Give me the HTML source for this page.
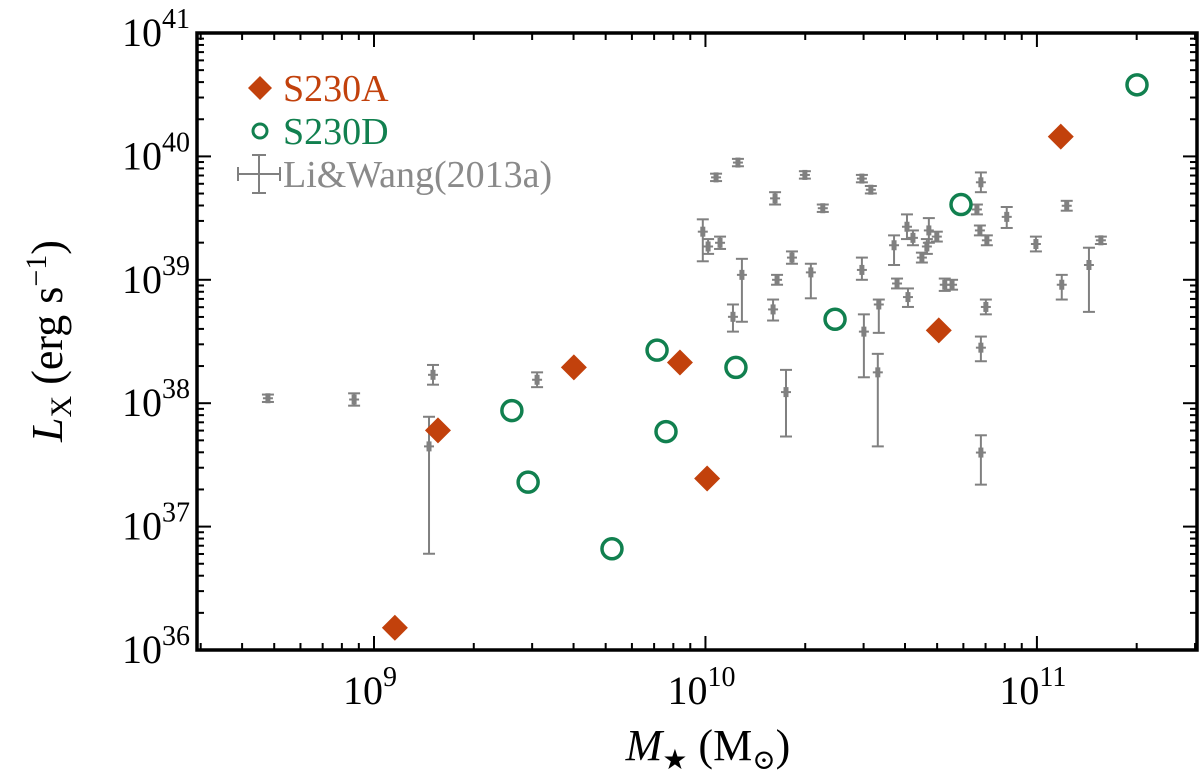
<!DOCTYPE html>
<html><head><meta charset="utf-8"><style>
body{margin:0;background:#fff;width:1200px;height:775px;overflow:hidden}
svg{display:block;font-family:"Liberation Serif","DejaVu Serif",serif}
</style></head><body>
<svg id="chart" width="1200" height="775" viewBox="0 0 1200 775" xmlns="http://www.w3.org/2000/svg">
<g id="grayg"></g>
<g id="marks"></g>
<g id="axes"></g>
<g>
  <path d="M260,76 L272,88 L260,100 L248,88Z" fill="#c2410c"/>
  <text x="283" y="101" font-size="38" fill="#c2410c">S230A</text>
  <circle cx="260" cy="131" r="7" fill="none" stroke="#11804f" stroke-width="3"/>
  <text x="283" y="144" font-size="38" fill="#11804f">S230D</text>
  <g stroke="#808080" stroke-width="2">
    <line x1="238" y1="174" x2="280" y2="174"/><line x1="238" y1="167" x2="238" y2="181"/><line x1="280" y1="167" x2="280" y2="181"/>
    <line x1="259" y1="155" x2="259" y2="193"/><line x1="252" y1="155" x2="266" y2="155"/><line x1="252" y1="193" x2="266" y2="193"/>
  </g>
  <text x="283" y="187" font-size="38" fill="#8a8a8a">Li&amp;Wang(2013a)</text>
</g>
<text transform="translate(62,341) rotate(-90)" text-anchor="middle" font-size="44"><tspan font-style="italic">L</tspan><tspan font-size="30" dy="9">X</tspan><tspan dy="-9"> (erg s</tspan><tspan font-size="30" dy="-16">−1</tspan><tspan dy="16">)</tspan></text>
<text x="708" y="760" text-anchor="middle" font-size="44"><tspan font-style="italic">M</tspan><tspan font-size="28" dy="9">★</tspan><tspan dy="-9"> (M</tspan><tspan font-size="28" dy="9">⊙</tspan><tspan dy="-9">)</tspan></text>
</svg>
<script>
// S230A (diamonds): log10 stellar mass, log10 Lx
const aLogM=[9.063,9.193,9.603,9.923,10.005,10.704,11.072];
const aLogL=[36.18,37.78,38.29,38.33,37.39,38.59,40.16];
// S230D (circles)
const dLogM=[9.416,9.465,9.718,9.854,9.881,10.092,10.391,10.771,11.302];
const dLogL=[37.94,37.36,36.82,38.43,37.77,38.29,38.68,39.61,40.58];
// Li & Wang (2013a): log mass, log Lx, upper and lower error (dex)
const gLogM=[8.680,8.940,9.178,9.166,9.492,9.992,10.008,10.044,10.032,10.098,10.210,10.300,10.354,10.472,10.499,10.831,10.819,10.828,10.849,10.909,10.997,11.090,11.193,11.157,11.075,10.744,10.722,10.611,10.578,10.569,10.608,10.626,10.674,10.698,10.668,10.653,10.472,10.523,10.520,10.478,10.243,10.261,10.318,10.216,10.204,10.110,10.083,10.831,10.831,10.846];
const gLogL=[38.04,38.03,38.23,37.65,38.19,39.39,39.27,39.30,39.83,39.95,39.66,39.85,39.58,39.82,39.73,39.79,39.57,39.40,39.32,39.51,39.29,39.60,39.32,39.12,38.96,38.96,38.96,38.86,38.97,39.28,39.43,39.34,39.40,39.35,39.27,39.18,39.08,38.80,38.25,38.58,38.09,39.18,39.06,39.00,38.76,39.04,38.70,37.60,38.45,38.78];
const gErrUp=[.03,.05,.08,.24,.06,.10,.06,.05,.03,.03,.05,.03,.03,.03,.03,.08,.04,.04,.04,.08,.06,.04,.03,.14,.08,.04,.05,.07,.04,.08,.10,.06,.10,.04,.06,.04,.10,.04,.15,.14,.18,.05,.07,.04,.08,.13,.10,.14,.09,.06];
const gErrDn=[.03,.05,.08,.87,.06,.24,.06,.05,.03,.03,.05,.03,.03,.03,.03,.08,.04,.04,.04,.09,.06,.04,.03,.38,.12,.04,.05,.08,.04,.16,.10,.06,.10,.04,.06,.04,.08,.23,.60,.37,.36,.05,.21,.04,.09,.38,.12,.26,.11,.06];
const xTickLabels=["9","10","11"];
const yTickLabels=["36","37","38","39","40","41"];

const NS="http://www.w3.org/2000/svg";
const L=197,R=1197,T=33,B=650;
const X0=8.466,X1=11.483,Y0=36,Y1=41;
const sx=v=>L+(v-X0)/(X1-X0)*(R-L);
const sy=v=>B-(v-Y0)/(Y1-Y0)*(B-T);
function mk(tag,attrs,parent){const e=document.createElementNS(NS,tag);for(const k in attrs)e.setAttribute(k,attrs[k]);parent.appendChild(e);return e;}

const gg=document.getElementById('grayg');
for(let i=0;i<gLogM.length;i++){
  const g=mk('g',{stroke:'#808080','stroke-width':2,fill:'#808080'},gg);
  
  
  const x=sx(gLogM[i]),y=sy(gLogL[i]),yt=sy(gLogL[i]+gErrUp[i]),yb=sy(gLogL[i]-gErrDn[i]);
  mk('line',{x1:x,y1:yt,x2:x,y2:yb},g);
  mk('line',{x1:x-6,y1:yt,x2:x+6,y2:yt},g);
  mk('line',{x1:x-6,y1:yb,x2:x+6,y2:yb},g);
  mk('line',{x1:x-5,y1:y,x2:x+5,y2:y},g);
  mk('rect',{x:x-2.5,y:y-5,width:5,height:10,stroke:'none'},g);
}
const mg=document.getElementById('marks');
for(let i=0;i<dLogM.length;i++){
  const c=mk('circle',{cx:sx(dLogM[i]),cy:sy(dLogL[i]),r:10,fill:'none',stroke:'#11804f','stroke-width':3.5},mg);
  
  
}
for(let i=0;i<aLogM.length;i++){
  const x=sx(aLogM[i]),y=sy(aLogL[i]);
  const p=mk('path',{d:`M${x},${y-13}L${x+13},${y}L${x},${y+13}L${x-13},${y}Z`,fill:'#c2410c'},mg);
  
  
}
const ax=document.getElementById('axes');
const tk=mk('g',{stroke:'#000','stroke-width':2},ax);
for(let d=8;d<=11;d++)for(let m=1;m<10;m++){
  const v=d+Math.log10(m); if(v<X0||v>X1)continue;
  const x=sx(v),len=m===1?14:7;
  mk('line',{x1:x,y1:B,x2:x,y2:B-len},tk);mk('line',{x1:x,y1:T,x2:x,y2:T+len},tk);
}
for(let d=36;d<=41;d++)for(let m=1;m<10;m++){
  const v=d+Math.log10(m); if(v>Y1)continue;
  const y=sy(v),len=m===1?14:7;
  mk('line',{x1:L,y1:y,x2:L+len,y2:y},tk);mk('line',{x1:R,y1:y,x2:R-len,y2:y},tk);
}
const fr=mk('rect',{x:L,y:T,width:R-L,height:B-T,fill:'none',stroke:'#000','stroke-width':3.5},ax);


xTickLabels.forEach(s=>{
  const t=mk('text',{x:sx(+s)-4,y:704,'text-anchor':'middle','font-size':40},ax);
  
  
  t.textContent='10';
  const sp=mk('tspan',{'font-size':28,dy:-18},t);sp.textContent=s;
});
yTickLabels.forEach(s=>{
  const t=mk('text',{x:190,y:sy(+s)+13,'text-anchor':'end','font-size':40},ax);
  
  
  t.textContent='10';
  const sp=mk('tspan',{'font-size':28,dy:-18},t);sp.textContent=s;
});
</script>
</body></html>
